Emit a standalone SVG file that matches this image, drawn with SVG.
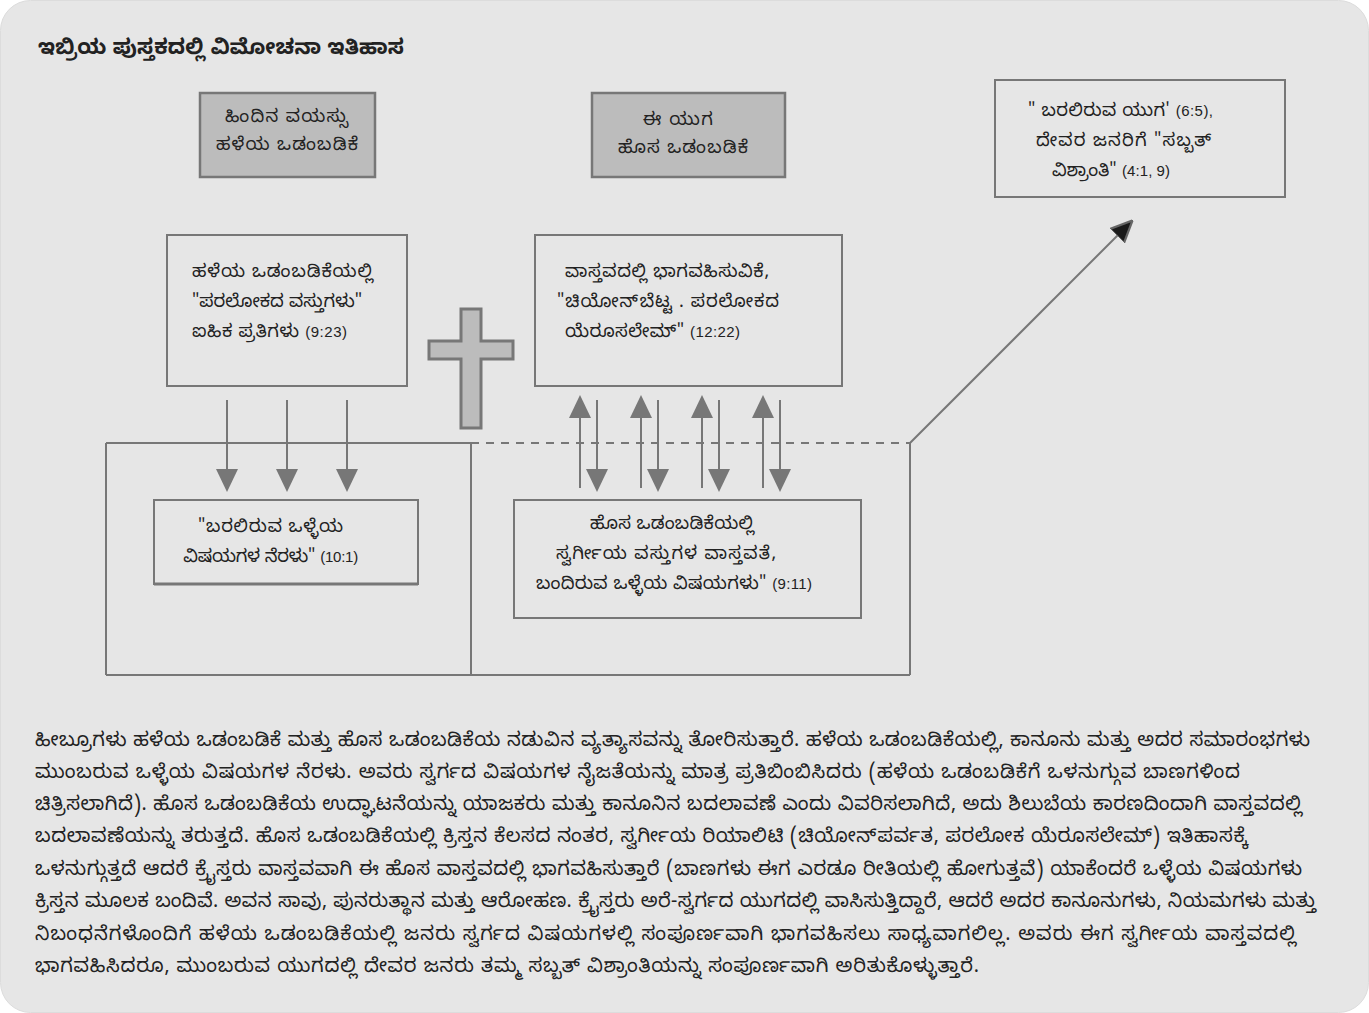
<svg xmlns="http://www.w3.org/2000/svg" width="1369" height="1013" viewBox="0 0 1369 1013">
<defs>
<style>
.kn{font-family:"Noto Sans Kannada","Noto Sans","DejaVu Sans",sans-serif;fill:#222;font-size:18px}
.num{font-family:"Liberation Sans",Arial,sans-serif;font-size:15px}
.title{font-size:21px;font-weight:bold}
.para{font-size:19.5px}
.gbox{fill:#bcbcbc;stroke:#777;stroke-width:2.5}
.lbox{fill:#e6e6e6;stroke:#777;stroke-width:2}
.ln{stroke:#777;stroke-width:2;fill:none}
</style>
<marker id="ahb" viewBox="0 0 10 10" refX="9" refY="5" markerWidth="22" markerHeight="22" markerUnits="userSpaceOnUse" orient="auto">
<path d="M0,0.5 L10,5 L0,9.5 z" fill="#1a1a1a" stroke="#666" stroke-width="1"/>
</marker>
</defs>
<rect x="0.5" y="0.5" width="1368" height="1012" rx="30" fill="#e6e6e6" stroke="#dcdcdc"/>
<text class="kn title" x="38" y="54" textLength="366" lengthAdjust="spacing">ಇಬ್ರಿಯ ಪುಸ್ತಕದಲ್ಲಿ ವಿಮೋಚನಾ ಇತಿಹಾಸ</text>

<g id="connectors">
<path class="ln" d="M106,443 H471 M471,443 V675 M910,443 V675 M106,443 V675 M106,675 H910"/>
<path class="ln" d="M471,443 H910" stroke-dasharray="8,7"/>
<path class="ln" d="M910,443 L1131,222" marker-end="url(#ahb)"/>
<g>
<path d="M227,400 V470" class="ln"/><path d="M216,469 L238,469 L227,492 z" fill="#777"/>
<path d="M287,400 V470" class="ln"/><path d="M276,469 L298,469 L287,492 z" fill="#777"/>
<path d="M347,400 V470" class="ln"/><path d="M336,469 L358,469 L347,492 z" fill="#777"/>
</g>
<g>
<path d="M580,488 V417" class="ln"/><path d="M569,418 L591,418 L580,395 z" fill="#777"/>
<path d="M641,488 V417" class="ln"/><path d="M630,418 L652,418 L641,395 z" fill="#777"/>
<path d="M702,488 V417" class="ln"/><path d="M691,418 L713,418 L702,395 z" fill="#777"/>
<path d="M763,488 V417" class="ln"/><path d="M752,418 L774,418 L763,395 z" fill="#777"/>
<path d="M597,400 V470" class="ln"/><path d="M586,469 L608,469 L597,492 z" fill="#777"/>
<path d="M658,400 V470" class="ln"/><path d="M647,469 L669,469 L658,492 z" fill="#777"/>
<path d="M719,400 V470" class="ln"/><path d="M708,469 L730,469 L719,492 z" fill="#777"/>
<path d="M780,400 V470" class="ln"/><path d="M769,469 L791,469 L780,492 z" fill="#777"/>
</g>
</g>

<g id="cross">
<path d="M461,309 H481 V341 H513 V359 H481 V428 H461 V359 H429 V341 H461 Z" fill="#bcbcbc" stroke="#777" stroke-width="3"/>
</g>

<g id="old-age">
<rect class="gbox" x="200" y="93" width="175" height="84"/>
<text class="kn" x="225" y="122" textLength="123" lengthAdjust="spacing">ಹಿಂದಿನ ವಯಸ್ಸು</text>
<text class="kn" x="216" y="150" textLength="142" lengthAdjust="spacing">ಹಳೆಯ ಒಡಂಬಡಿಕೆ</text>
</g>

<g id="this-age">
<rect class="gbox" x="592" y="93" width="193" height="84"/>
<text class="kn" x="643" y="125" textLength="70" lengthAdjust="spacing">ಈ ಯುಗ</text>
<text class="kn" x="618" y="153" textLength="130" lengthAdjust="spacing">ಹೊಸ ಒಡಂಬಡಿಕೆ</text>
</g>

<g id="coming-age">
<rect class="lbox" x="995" y="80" width="290" height="117"/>
<text class="kn" x="1028" y="116" textLength="185" lengthAdjust="spacing">" ಬರಲಿರುವ ಯುಗ' <tspan class="num">(6:5),</tspan></text>
<text class="kn" x="1036" y="146" textLength="175" lengthAdjust="spacing">ದೇವರ ಜನರಿಗೆ "ಸಬ್ಬತ್</text>
<text class="kn" x="1052" y="176" textLength="118" lengthAdjust="spacing">ವಿಶ್ರಾಂತಿ" <tspan class="num">(4:1,  9)</tspan></text>
</g>

<g id="ot-heavenly">
<rect class="lbox" x="167" y="235" width="240" height="151"/>
<text class="kn" x="192" y="277" textLength="181" lengthAdjust="spacing">ಹಳೆಯ ಒಡಂಬಡಿಕೆಯಲ್ಲಿ</text>
<text class="kn" x="192" y="307" textLength="170" lengthAdjust="spacing">"ಪರಲೋಕದ ವಸ್ತುಗಳು"</text>
<text class="kn" x="192" y="337" textLength="155" lengthAdjust="spacing">ಐಹಿಕ ಪ್ರತಿಗಳು <tspan class="num">(9:23)</tspan></text>
</g>

<g id="participation">
<rect class="lbox" x="535" y="235" width="307" height="151"/>
<text class="kn" x="565" y="277" textLength="204" lengthAdjust="spacing">ವಾಸ್ತವದಲ್ಲಿ ಭಾಗವಹಿಸುವಿಕೆ,</text>
<text class="kn" x="557" y="307" textLength="222" lengthAdjust="spacing">"ಚಿಯೋನ್‌ಬೆಟ್ಟ . ಪರಲೋಕದ</text>
<text class="kn" x="565" y="337" textLength="175" lengthAdjust="spacing">ಯೆರೂಸಲೇಮ್" <tspan class="num">(12:22)</tspan></text>
</g>

<g id="shadow">
<rect class="lbox" x="154" y="500" width="264" height="84"/>
<line x1="154" y1="584" x2="418" y2="584" stroke="#777" stroke-width="3"/>
<text class="kn" x="198" y="532" textLength="145" lengthAdjust="spacing">"ಬರಲಿರುವ ಒಳ್ಳೆಯ</text>
<text class="kn" x="183" y="562" textLength="175" lengthAdjust="spacing">ವಿಷಯಗಳ ನೆರಳು" <tspan class="num">(10:1)</tspan></text>
</g>

<g id="nt-reality">
<rect class="lbox" x="514" y="500" width="347" height="118"/>
<text class="kn" x="590" y="529" textLength="164" lengthAdjust="spacing">ಹೊಸ ಒಡಂಬಡಿಕೆಯಲ್ಲಿ</text>
<text class="kn" x="556" y="559" textLength="220" lengthAdjust="spacing">ಸ್ವರ್ಗೀಯ ವಸ್ತುಗಳ ವಾಸ್ತವತೆ,</text>
<text class="kn" x="536" y="589" textLength="276" lengthAdjust="spacing">ಬಂದಿರುವ ಒಳ್ಳೆಯ ವಿಷಯಗಳು" <tspan class="num">(9:11)</tspan></text>
</g>

<g id="paragraph">
<text class="kn para" x="35" y="746" textLength="1275" lengthAdjust="spacing">ಹೀಬ್ರೂಗಳು ಹಳೆಯ ಒಡಂಬಡಿಕೆ ಮತ್ತು ಹೊಸ ಒಡಂಬಡಿಕೆಯ ನಡುವಿನ ವ್ಯತ್ಯಾಸವನ್ನು ತೋರಿಸುತ್ತಾರೆ. ಹಳೆಯ ಒಡಂಬಡಿಕೆಯಲ್ಲಿ, ಕಾನೂನು ಮತ್ತು ಅದರ ಸಮಾರಂಭಗಳು</text>
<text class="kn para" x="35" y="778" textLength="1205" lengthAdjust="spacing">ಮುಂಬರುವ ಒಳ್ಳೆಯ ವಿಷಯಗಳ ನೆರಳು. ಅವರು ಸ್ವರ್ಗದ ವಿಷಯಗಳ ನೈಜತೆಯನ್ನು ಮಾತ್ರ ಪ್ರತಿಬಿಂಬಿಸಿದರು (ಹಳೆಯ ಒಡಂಬಡಿಕೆಗೆ ಒಳನುಗ್ಗುವ ಬಾಣಗಳಿಂದ</text>
<text class="kn para" x="35" y="810" textLength="1267" lengthAdjust="spacing">ಚಿತ್ರಿಸಲಾಗಿದೆ). ಹೊಸ ಒಡಂಬಡಿಕೆಯ ಉದ್ಘಾಟನೆಯನ್ನು ಯಾಜಕರು ಮತ್ತು ಕಾನೂನಿನ ಬದಲಾವಣೆ ಎಂದು ವಿವರಿಸಲಾಗಿದೆ, ಅದು ಶಿಲುಬೆಯ ಕಾರಣದಿಂದಾಗಿ ವಾಸ್ತವದಲ್ಲಿ</text>
<text class="kn para" x="35" y="842" textLength="1213" lengthAdjust="spacing">ಬದಲಾವಣೆಯನ್ನು ತರುತ್ತದೆ. ಹೊಸ ಒಡಂಬಡಿಕೆಯಲ್ಲಿ ಕ್ರಿಸ್ತನ ಕೆಲಸದ ನಂತರ, ಸ್ವರ್ಗೀಯ ರಿಯಾಲಿಟಿ (ಚಿಯೋನ್‌ಪರ್ವತ, ಪರಲೋಕ ಯೆರೂಸಲೇಮ್) ಇತಿಹಾಸಕ್ಕೆ</text>
<text class="kn para" x="35" y="875" textLength="1267" lengthAdjust="spacing">ಒಳನುಗ್ಗುತ್ತದೆ ಆದರೆ ಕ್ರೈಸ್ತರು ವಾಸ್ತವವಾಗಿ ಈ ಹೊಸ ವಾಸ್ತವದಲ್ಲಿ ಭಾಗವಹಿಸುತ್ತಾರೆ (ಬಾಣಗಳು ಈಗ ಎರಡೂ ರೀತಿಯಲ್ಲಿ ಹೋಗುತ್ತವೆ) ಯಾಕೆಂದರೆ ಒಳ್ಳೆಯ ವಿಷಯಗಳು</text>
<text class="kn para" x="35" y="907" textLength="1281" lengthAdjust="spacing">ಕ್ರಿಸ್ತನ ಮೂಲಕ ಬಂದಿವೆ. ಅವನ ಸಾವು, ಪುನರುತ್ಥಾನ ಮತ್ತು ಆರೋಹಣ. ಕ್ರೈಸ್ತರು ಅರೆ-ಸ್ವರ್ಗದ ಯುಗದಲ್ಲಿ ವಾಸಿಸುತ್ತಿದ್ದಾರೆ, ಆದರೆ ಅದರ ಕಾನೂನುಗಳು, ನಿಯಮಗಳು ಮತ್ತು</text>
<text class="kn para" x="35" y="940" textLength="1261" lengthAdjust="spacing">ನಿಬಂಧನೆಗಳೊಂದಿಗೆ ಹಳೆಯ ಒಡಂಬಡಿಕೆಯಲ್ಲಿ ಜನರು ಸ್ವರ್ಗದ ವಿಷಯಗಳಲ್ಲಿ ಸಂಪೂರ್ಣವಾಗಿ ಭಾಗವಹಿಸಲು ಸಾಧ್ಯವಾಗಲಿಲ್ಲ. ಅವರು ಈಗ ಸ್ವರ್ಗೀಯ ವಾಸ್ತವದಲ್ಲಿ</text>
<text class="kn para" x="35" y="972" textLength="944" lengthAdjust="spacing">ಭಾಗವಹಿಸಿದರೂ, ಮುಂಬರುವ ಯುಗದಲ್ಲಿ ದೇವರ ಜನರು ತಮ್ಮ ಸಬ್ಬತ್ ವಿಶ್ರಾಂತಿಯನ್ನು ಸಂಪೂರ್ಣವಾಗಿ ಅರಿತುಕೊಳ್ಳುತ್ತಾರೆ.</text>
</g>
</svg>
